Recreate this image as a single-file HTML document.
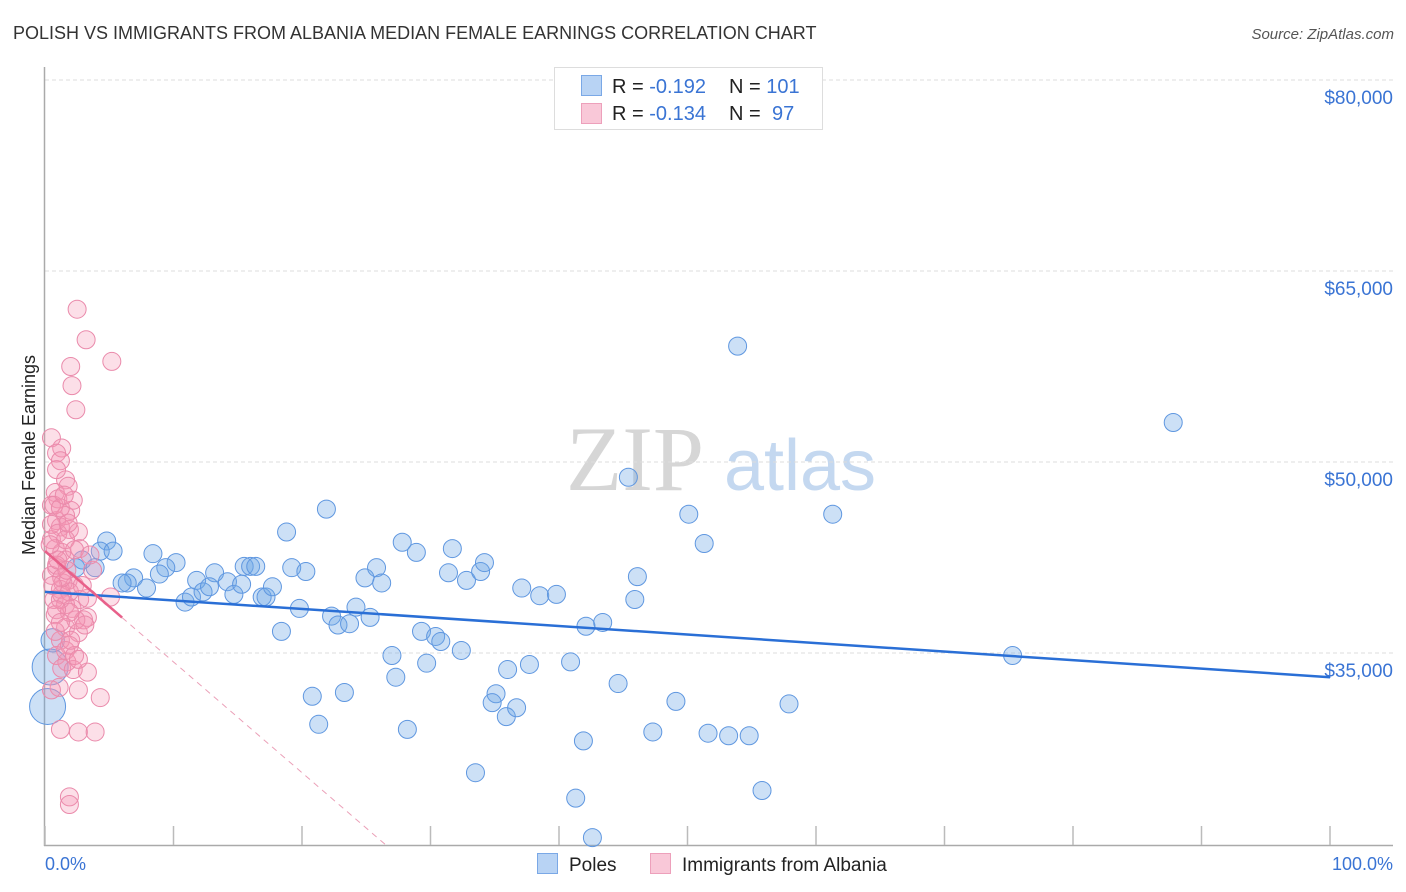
<!DOCTYPE html>
<html><head><meta charset="utf-8"><style>
body{margin:0;background:#fff;font-family:"Liberation Sans",sans-serif;}
#wrap{position:relative;width:1406px;height:892px;overflow:hidden;}
</style></head><body>
<div id="wrap">
<svg id="svg" width="1406" height="892" xmlns="http://www.w3.org/2000/svg">
<text x="13" y="39" font-size="18" fill="#333">POLISH VS IMMIGRANTS FROM ALBANIA MEDIAN FEMALE EARNINGS CORRELATION CHART</text>
<text x="1394" y="39" font-size="15" fill="#555" font-style="italic" text-anchor="end">Source: ZipAtlas.com</text>
<g>
<text x="635" y="490" font-size="92" fill="#d6d6d6" font-family="Liberation Serif,serif" text-anchor="middle">ZIP</text>
<text x="800" y="490" font-size="72" fill="#c4d8f0" text-anchor="middle">atlas</text>
</g>
<g id="grid"></g>
<g id="axes"></g>
<g id="pts"></g>
<g id="trend"></g>
<text transform="translate(35,455) rotate(-90)" font-size="18" fill="#222" text-anchor="middle">Median Female Earnings</text>
<text x="45" y="870" font-size="18" fill="#3a74d4">0.0%</text>
<text x="1393" y="870" font-size="18" fill="#3a74d4" text-anchor="end">100.0%</text>
<g>
<rect x="554.5" y="67.5" width="268" height="62" fill="#fff" stroke="#ddd"/>
<rect x="581.5" y="75.5" width="20" height="20" fill="#b8d3f4" stroke="#7aa8e6"/>
<rect x="581.5" y="103.5" width="20" height="20" fill="#f9c8d8" stroke="#eda0bb"/>
<text x="612" y="93" font-size="20" fill="#222">R = <tspan fill="#3a74d4">-0.192</tspan><tspan x="729">N = </tspan><tspan fill="#3a74d4">101</tspan></text>
<text x="612" y="120" font-size="20" fill="#222">R = <tspan fill="#3a74d4">-0.134</tspan><tspan x="729">N = </tspan><tspan fill="#3a74d4" x="772">97</tspan></text>
</g>
<g>
<rect x="537.5" y="853.5" width="20" height="20" fill="#b8d3f4" stroke="#7aa8e6"/>
<text x="569" y="871" font-size="19" fill="#222">Poles</text>
<rect x="650.5" y="853.5" width="20" height="20" fill="#f9c8d8" stroke="#eda0bb"/>
<text x="682" y="871" font-size="19" fill="#222">Immigrants from Albania</text>
</g>
</svg>
</div>
<script>
const yTicks=[80000,65000,50000,35000];
const yTickLabels=["$80,000","$65,000","$50,000","$35,000"];
const xTicks=[0,10,20,30,40,50,60,70,80,90,100];
const polesX=[4.8,4.3,5.3,2.9,3.9,2.4,8.4,10.2,9.4,8.9,6.9,6.4,6.0,7.9,10.9,11.4,11.8,12.3,13.2,12.8,14.2,14.7,15.5,16.0,15.3,16.4,16.9,17.2,17.7,18.8,19.2,20.3,18.4,19.8,21.9,22.3,22.8,23.7,24.2,24.9,25.8,26.2,25.3,27.8,28.9,27.0,27.3,29.7,28.2,29.3,30.4,30.8,31.7,31.4,32.4,32.8,33.9,34.2,20.8,23.3,21.3,33.5,35.1,34.8,36.0,35.9,36.7,37.7,37.1,38.5,39.8,40.9,41.3,41.9,42.1,43.4,44.6,42.6,45.4,46.1,45.9,47.3,49.1,50.1,51.3,51.6,53.2,53.9,54.8,55.8,57.9,61.3,75.3,87.8,0.6,0.4,0.2];
const polesY=[43.8,43.0,43.0,42.3,41.7,41.7,42.8,42.1,41.7,41.2,40.9,40.5,40.5,40.1,39.0,39.4,40.7,39.8,41.3,40.2,40.6,39.6,41.8,41.8,40.4,41.8,39.4,39.4,40.2,44.5,41.7,41.4,36.7,38.5,46.3,37.9,37.2,37.3,38.6,40.9,41.7,40.5,37.8,43.7,42.9,34.8,33.1,34.2,29.0,36.7,36.3,35.9,43.2,41.3,35.2,40.7,41.4,42.1,31.6,31.9,29.4,25.6,31.8,31.1,33.7,30.0,30.7,34.1,40.1,39.5,39.6,34.3,23.6,28.1,37.1,37.4,32.6,20.5,48.8,41.0,39.2,28.8,31.2,45.9,43.6,28.7,28.5,59.1,28.5,24.2,31.0,45.9,34.8,53.1,36.0,33.9,30.8];
const polesW=[1,1,1,1,1,1,1,1,1,1,1,1,1,1,1,1,1,1,1,1,1,1,1,1,1,1,1,1,1,1,1,1,1,1,1,1,1,1,1,1,1,1,1,1,1,1,1,1,1,1,1,1,1,1,1,1,1,1,1,1,1,1,1,1,1,1,1,1,1,1,1,1,1,1,1,1,1,1,1,1,1,1,1,1,1,1,1,1,1,1,1,1,1,1,1.3,2,2];
const albX=[2.5,3.2,2.0,5.2,2.1,2.4,1.3,0.5,0.9,1.2,1.6,1.8,0.8,1.0,0.5,2.0,1.6,0.9,1.2,1.9,2.6,0.5,0.8,1.3,1.6,0.9,0.5,1.8,2.3,1.2,0.7,1.3,2.7,1.6,3.3,5.1,2.1,0.8,3.0,1.6,2.6,3.3,1.2,1.9,0.9,1.7,1.3,2.2,3.3,1.1,2.6,4.3,1.2,2.6,3.9,1.9,1.9,0.7,1.2,0.5,1.0,1.6,2.7,0.9,1.4,1.9,2.4,3.1,0.8,1.6,2.3,0.5,1.2,1.9,1.0,1.3,1.8,2.2,0.9,1.5,0.4,0.6,0.9,2.0,2.6,2.9,1.7,2.3,1.2,3.7,3.5];
const albY=[62.0,59.6,57.5,57.9,56.0,54.1,51.1,51.9,50.7,50.1,48.6,48.1,47.6,47.1,46.6,46.2,45.8,45.4,44.9,44.7,44.5,43.9,43.2,42.9,42.3,41.7,41.1,40.7,40.3,40.0,39.2,39.6,39.2,38.8,39.3,39.4,38.5,38.0,37.6,37.0,36.6,37.8,36.0,35.6,34.8,34.3,33.8,33.7,33.5,32.3,32.1,31.5,29.0,28.8,28.8,23.7,23.1,46.6,46.4,45.1,44.4,43.9,43.2,41.9,40.5,39.8,37.6,37.2,36.7,35.2,34.8,32.1,39.2,38.2,42.3,40.9,45.2,47.0,49.4,47.4,43.5,40.3,38.4,36.0,34.5,40.3,41.5,43.1,37.4,41.5,42.7];
const polesTrend=[39.8,33.1];
const albTrend=[43.0,-0.87];
const albSolidEnd=6.0;

const NS="http://www.w3.org/2000/svg";
const X0=45,X1=1330,Y80=80,PX_PER_K=191/15;
function sx(p){return X0+(X1-X0)*p/100;}
function sy(k){return Y80+(80-k)*PX_PER_K;}
function mk(tag,attrs,parent){const e=document.createElementNS(NS,tag);for(const k in attrs)e.setAttribute(k,attrs[k]);parent.appendChild(e);return e;}
const grid=document.getElementById('grid'),axes=document.getElementById('axes'),pts=document.getElementById('pts'),trend=document.getElementById('trend');
yTicks.forEach((v,i)=>{
  const y=sy(v/1000);
  const l=mk('line',{x1:45,x2:1393,y1:y,y2:y,stroke:'#ddd','stroke-dasharray':'4,3'},grid);
  
  
  const t=mk('text',{x:1393,y:y+24,'font-size':19,fill:'#3a74d4','text-anchor':'end'},grid);
  t.textContent=yTickLabels[i];
  
  
});
const ya=mk('line',{x1:44.5,x2:44.5,y1:67,y2:846,stroke:'#aaa','stroke-width':1.5},axes);


const xa=mk('line',{x1:44,x2:1393,y1:845.5,y2:845.5,stroke:'#aaa','stroke-width':1.5},axes);


xTicks.forEach(p=>{
  const x=sx(p);
  const t=mk('line',{x1:x,x2:x,y1:826,y2:845,stroke:'#bbb','stroke-width':1.5},axes);
  
  
});
polesX.forEach((p,i)=>{
  const c=mk('circle',{cx:sx(p),cy:sy(polesY[i]),r:9*polesW[i],fill:'rgba(110,165,230,0.35)',stroke:'#5f97e0','stroke-width':1},pts);
  
  
});
albX.forEach((p,i)=>{
  const c=mk('circle',{cx:sx(p),cy:sy(albY[i]),r:9,fill:'rgba(245,150,180,0.3)',stroke:'#ea8aab','stroke-width':1},pts);
  
  
});
const bl=mk('line',{x1:sx(0),y1:sy(polesTrend[0]),x2:sx(100),y2:sy(polesTrend[1]),stroke:'#2a6fd6','stroke-width':2.5},trend);


const endK=albTrend[0]+albTrend[1]*albSolidEnd;
const pl=mk('line',{x1:sx(0),y1:sy(albTrend[0]),x2:sx(albSolidEnd),y2:sy(endK),stroke:'#e8608a','stroke-width':2.5},trend);


const bottomK=80-(845-Y80)/PX_PER_K;
const pEnd=(bottomK-albTrend[0])/albTrend[1];
const pd=mk('line',{x1:sx(albSolidEnd),y1:sy(endK),x2:sx(pEnd),y2:sy(bottomK),stroke:'#eba0b8','stroke-width':1,'stroke-dasharray':'6,5'},trend);


</script>
</body></html>
